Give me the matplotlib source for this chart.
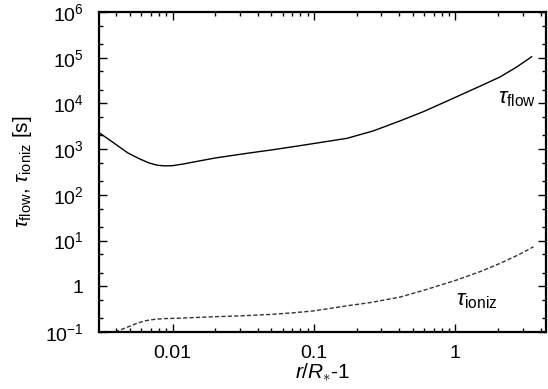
import matplotlib
matplotlib.use("Agg")
import matplotlib.pyplot as plt
from matplotlib.ticker import FixedLocator, FixedFormatter, NullFormatter

plt.rcParams['font.family'] = ['Liberation Sans', 'DejaVu Sans']
plt.rcParams['mathtext.fontset'] = 'custom'
plt.rcParams['mathtext.rm'] = 'Liberation Sans'
plt.rcParams['mathtext.it'] = 'Liberation Sans:italic'
plt.rcParams['mathtext.bf'] = 'Liberation Sans:bold'

# data
flow_x = [0.00307, 0.0038, 0.00484, 0.0058, 0.0068, 0.0078, 0.0088, 0.0100, 0.0120,
          0.0144, 0.020, 0.0326, 0.050, 0.0711, 0.100, 0.171, 0.262, 0.406, 0.60,
          1.02, 1.50, 2.07, 2.70, 3.46]
flow_y = [2220, 1400, 822, 620, 500, 445, 430, 435, 475,
          530, 640, 800, 960, 1130, 1330, 1722, 2500, 4150, 6700,
          14000, 24000, 38000, 62000, 105000]

ion_x = [0.00392, 0.0044, 0.00487, 0.0056, 0.0064, 0.0075, 0.0090, 0.011, 0.016,
         0.0215, 0.0308, 0.050, 0.0714, 0.100, 0.171, 0.250, 0.406, 0.60, 1.02,
         1.50, 2.07, 2.80, 3.56]
ion_y = [0.100, 0.115, 0.130, 0.155, 0.176, 0.190, 0.197, 0.200, 0.210,
         0.218, 0.226, 0.243, 0.263, 0.290, 0.374, 0.440, 0.580, 0.82, 1.37,
         2.10, 3.17, 4.90, 7.30]

xticks = [0.01, 0.1, 1]
xticklabels = ['0.01', '0.1', '1']
yticks = [0.1, 1, 10, 100, 1e3, 1e4, 1e5, 1e6]
yticklabels = [r'$10^{-1}$', '1', r'$10^{1}$', r'$10^{2}$', r'$10^{3}$',
               r'$10^{4}$', r'$10^{5}$', r'$10^{6}$']

fig = plt.figure(figsize=(5.48, 3.89), dpi=100)
ax = fig.add_axes([99/548, 57/389, 447/548, 320/389])

ax.plot(flow_x, flow_y, color='black', lw=1.0)
ax.plot(ion_x, ion_y, color='#333333', lw=1.0, dashes=(3, 1.6))

ax.set_xscale('log')
ax.set_yscale('log')
ax.set_xlim(0.00302, 4.37)
ax.set_ylim(0.1, 1e6)

ax.xaxis.set_major_locator(FixedLocator(xticks))
ax.xaxis.set_major_formatter(FixedFormatter(xticklabels))
xminor = [m * 10.0**e for e in range(-3, 1) for m in range(2, 10)]
ax.xaxis.set_minor_locator(FixedLocator(xminor))
ax.xaxis.set_minor_formatter(NullFormatter())

ax.yaxis.set_major_locator(FixedLocator(yticks))
ax.yaxis.set_major_formatter(FixedFormatter(yticklabels))
yminor = [m * 10.0**e for e in range(-1, 6) for m in (2, 5)]
ax.yaxis.set_minor_locator(FixedLocator(yminor))
ax.yaxis.set_minor_formatter(NullFormatter())

ax.tick_params(which='both', direction='in', top=True, right=True, labelsize=14, width=1.0)
ax.tick_params(axis='y', which='major', length=6, pad=11)
ax.tick_params(axis='x', which='major', length=6, pad=9)
ax.tick_params(which='minor', length=3)
for s in ax.spines.values():
    s.set_linewidth(1.6)

ax.set_xlabel(r'$r/R_{\ast}$-1', fontsize=15, labelpad=0)
ax.set_ylabel(r'$\tau_{\mathrm{flow}}$, $\tau_{\mathrm{ioniz}}$ [s]', fontsize=15, labelpad=8)

ax.text(2.74, 1.31e4, r'$\tau_{\mathrm{flow}}$', fontsize=16, ha='center', va='center')
ax.text(1.41, 0.48, r'$\tau_{\mathrm{ioniz}}$', fontsize=16, ha='center', va='center')

fig.savefig('out.png', dpi=100)
